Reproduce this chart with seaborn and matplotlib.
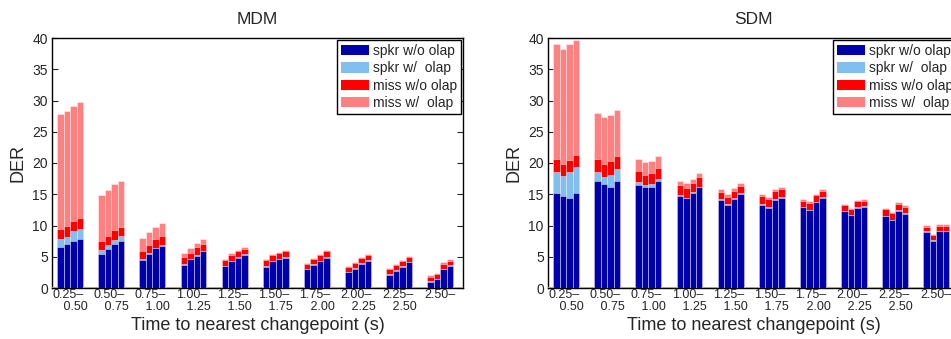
import numpy as np
import pandas as pd
import matplotlib
matplotlib.use("Agg")
import matplotlib.pyplot as plt
from matplotlib.patches import Patch
import seaborn as sns

# Changepoint-distance bins (labels on the x axis)
bins = ["0.25–\n   0.50", "0.50–\n   0.75", "0.75–\n   1.00", "1.00–\n   1.25",
        "1.25–\n   1.50", "1.50–\n   1.75", "1.75–\n   2.00", "2.00–\n   2.25",
        "2.25–\n   2.50", "2.50–"]
components = ["spkr w/o olap", "spkr w/  olap", "miss w/o olap", "miss w/  olap"]

# DER components, 10 bins x 4 systems each
mdm_spkr_noov = [[6.6, 7.0, 7.5, 7.9], [5.5, 6.2, 7.1, 7.6], [4.5, 5.4, 6.35, 6.8],
                 [3.7, 4.6, 5.2, 5.85], [3.45, 4.3, 4.85, 5.3], [3.4, 4.3, 4.6, 4.85],
                 [3.0, 3.7, 4.25, 4.85], [2.5, 3.05, 3.9, 4.4], [2.1, 2.75, 3.35, 4.1],
                 [1.0, 1.4, 3.0, 3.55]]
mdm_spkr_ov = [[1.2, 1.2, 1.6, 1.6], [0.6, 0.7, 0.6, 0.7], [0.15, 0.2, 0.1, 0.1],
               [0.1, 0.1, 0.1, 0.1], [0.1, 0.1, 0.1, 0.1], [0.1, 0.1, 0.1, 0.1],
               [0.1, 0.1, 0.1, 0.1], [0.1, 0.1, 0.1, 0.1], [0.1, 0.1, 0.1, 0.1],
               [0.1, 0.1, 0.1, 0.1]]
mdm_miss_noov = [[1.7, 1.7, 1.6, 1.75], [1.5, 1.5, 1.6, 1.5], [1.35, 1.3, 1.4, 1.5],
                 [1.1, 0.95, 1.2, 1.1], [0.93, 0.93, 0.97, 0.9], [0.98, 0.83, 0.9, 0.92],
                 [0.8, 0.9, 0.88, 0.92], [0.8, 0.9, 0.75, 0.73], [0.8, 0.78, 0.87, 0.7],
                 [0.7, 0.69, 0.74, 0.72]]
mdm_miss_ov = [[18.4, 18.5, 18.5, 18.55], [7.3, 7.3, 7.3, 7.3], [2.0, 2.0, 1.95, 1.95],
               [0.75, 0.8, 0.7, 0.75], [0.22, 0.27, 0.21, 0.3], [0.16, 0.21, 0.2, 0.21],
               [0.15, 0.15, 0.21, 0.16], [0.17, 0.15, 0.21, 0.21], [0.2, 0.21, 0.21, 0.22],
               [0.23, 0.21, 0.26, 0.22]]

sdm_spkr_noov = [[15.15, 14.75, 14.45, 15.2], [17.1, 16.65, 16.2, 17.2], [16.55, 16.1, 16.2, 17.05],
                 [14.75, 14.35, 15.2, 16.1], [14.1, 13.3, 14.3, 15.05], [13.3, 12.85, 14.15, 14.45],
                 [12.9, 12.45, 13.7, 14.45], [12.25, 11.65, 12.85, 12.95], [11.5, 10.85, 12.35, 11.9],
                 [9.0, 7.55, 9.1, 9.1]]
sdm_spkr_ov = [[3.45, 3.15, 4.05, 4.15], [1.4, 1.15, 1.9, 1.8], [0.4, 0.4, 0.45, 0.4],
               [0.1, 0.1, 0.1, 0.1], [0.1, 0.1, 0.1, 0.1], [0.1, 0.1, 0.1, 0.1],
               [0.1, 0.1, 0.1, 0.1], [0.1, 0.1, 0.1, 0.1], [0.1, 0.1, 0.1, 0.1],
               [0.1, 0.1, 0.1, 0.1]]
sdm_miss_noov = [[2.0, 1.9, 2.0, 1.9], [2.15, 2.05, 2.2, 2.1], [1.7, 1.65, 1.7, 1.7],
                 [1.63, 1.6, 1.45, 1.5], [1.2, 1.2, 1.17, 1.22], [1.32, 1.29, 1.32, 1.29],
                 [0.97, 1.0, 1.03, 1.02], [0.93, 0.84, 0.97, 0.92], [0.99, 1.0, 1.04, 1.01],
                 [0.71, 0.78, 0.72, 0.72]]
sdm_miss_ov = [[18.45, 18.5, 18.55, 18.4], [7.35, 7.45, 7.45, 7.35], [1.95, 2.05, 1.95, 2.0],
               [0.7, 0.7, 0.7, 0.7], [0.4, 0.44, 0.43, 0.43], [0.28, 0.32, 0.27, 0.32],
               [0.27, 0.32, 0.27, 0.22], [0.21, 0.26, 0.21, 0.27], [0.26, 0.26, 0.27, 0.27],
               [0.27, 0.26, 0.27, 0.27]]

colors = ["#0000AA", "#80BFEE", "#FF0000", "#FF8080"]

sns.set_style("white")
plt.rcParams["font.family"] = ["Liberation Sans", "DejaVu Sans"]


def make_frame(parts):
    rows = []
    for g, label in enumerate(bins):
        for b in range(4):
            vals = [p[g][b] for p in parts]
            rows.append({"bin": label, "sys": f"s{b}",
                         "c0": vals[0], "c1": vals[0] + vals[1],
                         "c2": vals[0] + vals[1] + vals[2],
                         "c3": sum(vals)})
    return pd.DataFrame(rows)


def draw(ax, df, title):
    # tallest cumulative layer first so the lower layers sit on top of it
    for k in (3, 2, 1, 0):
        sns.barplot(data=df, x="bin", y=f"c{k}", hue="sys", order=bins,
                    palette=[colors[k]] * 4, width=0.63, gap=0, dodge=True,
                    errorbar=None, legend=False, ax=ax, saturation=1,
                    edgecolor=(1, 1, 1, 0.5), linewidth=0.6, zorder=3)
    ax.axhline(0, color="#FF7070", lw=1.3, zorder=2.6)
    ax.set_xlim(-0.44, 9.55)
    ax.set_ylim(0, 40)
    ax.set_yticks(np.arange(0, 41, 5))
    ax.tick_params(axis="y", direction="in", length=4, labelsize=10,
                   right=True, left=True, pad=3, width=0.8)
    ax.tick_params(axis="x", length=0, labelsize=9, pad=1)
    for t in ax.get_xticklabels():
        t.set_multialignment("left")
        t.set_linespacing(0.95)
    for s in ax.spines.values():
        s.set_visible(True)
        s.set_color("black")
        s.set_linewidth(1.0)
    ax.set_title(title, fontsize=12.5, pad=10)
    ax.set_xlabel("Time to nearest changepoint (s)", fontsize=13, labelpad=3)
    ax.set_ylabel("DER", fontsize=13, labelpad=4)
    handles = [Patch(facecolor=c, edgecolor="none") for c in colors]
    leg = ax.legend(handles, components, loc="upper right", fontsize=10,
                    frameon=True, fancybox=False, framealpha=1,
                    edgecolor="black", borderaxespad=0.12, borderpad=0.3,
                    handlelength=2.0, handleheight=0.75, handletextpad=0.3,
                    labelspacing=0.25)
    leg.get_frame().set_linewidth(1.0)


fig = plt.figure(figsize=(9.51, 3.39), dpi=100)
W, H = 951, 339
ax1 = fig.add_axes([52 / W, (H - 288) / H, 411 / W, 250 / H])
ax2 = fig.add_axes([548 / W, (H - 288) / H, 411 / W, 250 / H])

draw(ax1, make_frame([mdm_spkr_noov, mdm_spkr_ov, mdm_miss_noov, mdm_miss_ov]), "MDM")
draw(ax2, make_frame([sdm_spkr_noov, sdm_spkr_ov, sdm_miss_noov, sdm_miss_ov]), "SDM")

fig.savefig("out.png", dpi=100)
